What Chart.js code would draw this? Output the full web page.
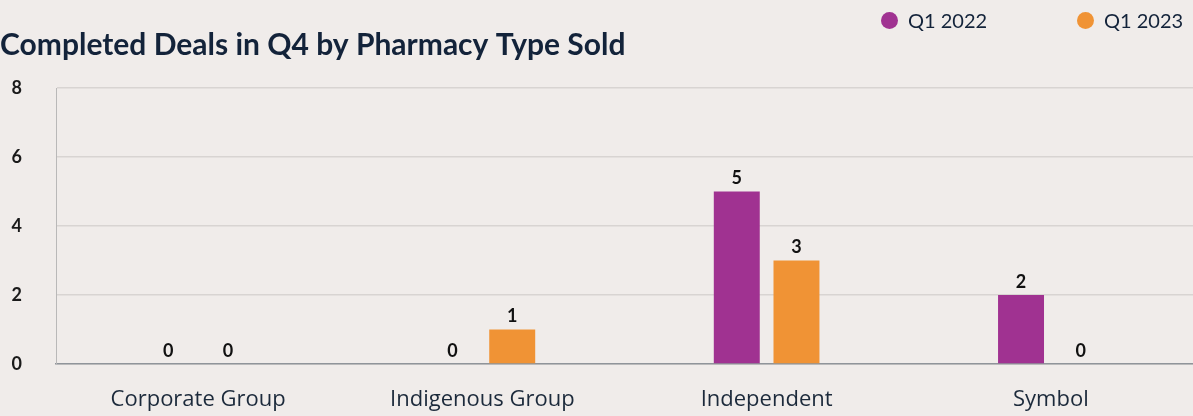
<!DOCTYPE html>
<html>
<head>
<meta charset="utf-8">
<script src="https://cdn.jsdelivr.net/npm/chart.js@4.4.1/dist/chart.umd.min.js"></script>
<style>
  html, body { margin: 0; padding: 0; background: #f0ecea; overflow: hidden; }
  canvas { display: block; }
  .legend { position: absolute; top: 8px; left: 881px; font-family: Lato, sans-serif; font-size: 20px; color: #13233a; }
  .legend span.item { position: absolute; white-space: nowrap; display: flex; align-items: center; }
  .legend i { display: inline-block; width: 17px; height: 17px; border-radius: 50%; margin-right: 10px; }
</style>
</head>
<body>
<canvas id="dealsChart" width="1193" height="416"></canvas>
<div class="legend" id="legend"></div>
<script>
// datos del gráfico
const categories = ['Corporate Group', 'Indigenous Group', 'Independent', 'Symbol'];
const seriesNames = ['Q1 2022', 'Q1 2023'];
const q1_2022 = [0, 0, 5, 2];
const q1_2023 = [0, 1, 3, 0];
const yTicks = [0, 2, 4, 6, 8];
const colors = ['#a03291', '#f09335'];

// leyenda en HTML (arriba a la derecha)
const legendEl = document.getElementById('legend');
const legendX = [0, 196];
seriesNames.forEach((name, i) => {
    const item = document.createElement('span');
    item.className = 'item';
    item.style.left = legendX[i] + 'px';
    item.innerHTML = '<i style="background:' + colors[i] + '"></i>' + name;
    legendEl.appendChild(item);
});

// plugin para escribir los valores encima de las barras
const valueLabels = {
    id: 'valueLabels',
    afterDatasetsDraw(chart) {
        const ctx = chart.ctx;
        ctx.save();
        ctx.font = 'bold 18px Lato, sans-serif';
        ctx.fillStyle = '#111111';
        ctx.textAlign = 'center';
        ctx.textBaseline = 'bottom';
        chart.data.datasets.forEach((ds, i) => {
            chart.getDatasetMeta(i).data.forEach((bar, j) => {
                ctx.fillText(String(ds.data[j]), bar.x, bar.y - 4);
            });
        });
        ctx.restore();
    }
};

const ctx = document.getElementById('dealsChart');
ctx.chart = new Chart(ctx, {
    type: 'bar',
    data: {
        labels: categories,
        datasets: [{
            label: seriesNames[0],
            data: q1_2022,
            backgroundColor: colors[0],
            categoryPercentage: 0.42,
            barPercentage: 0.77
        }, {
            label: seriesNames[1],
            data: q1_2023,
            backgroundColor: colors[1],
            categoryPercentage: 0.42,
            barPercentage: 0.77
        }]
    },
    options: {
        responsive: false,
        animation: false,
        layout: { padding: { left: 0, right: 0, top: 0, bottom: 4 } },
        scales: {
            x: {
                afterFit: (axis) => { axis.height = 48; },
                grid: { display: false, drawTicks: false },
                border: { display: true, color: '#8f949a', width: 1.5 },
                ticks: {
                    padding: 23,
                    color: '#1c2a3b',
                    font: { family: '"Open Sans", sans-serif', size: 22 }
                }
            },
            y: {
                min: 0,
                max: 8,
                afterBuildTicks: (axis) => { axis.ticks = yTicks.map(v => ({ value: v })); },
                afterFit: (axis) => { axis.width = 56; },
                grid: { color: '#d8d4d2', lineWidth: 1.5, drawTicks: false },
                border: { display: true, color: '#b9b8b8', width: 1 },
                ticks: {
                    padding: 34,
                    color: '#1a1a1a',
                    font: { family: 'Lato, sans-serif', size: 18, weight: 'bold' }
                }
            }
        },
        plugins: {
            legend: { display: false },
            tooltip: { enabled: false },
            title: {
                display: true,
                text: 'Completed Deals in Q4 by Pharmacy Type Sold',
                align: 'start',
                color: '#13233a',
                font: { family: 'Lato, sans-serif', size: 30, weight: 'bold' },
                padding: { top: 27, bottom: 25 }
            }
        }
    },
    plugins: [valueLabels]
});
</script>
</body>
</html>
